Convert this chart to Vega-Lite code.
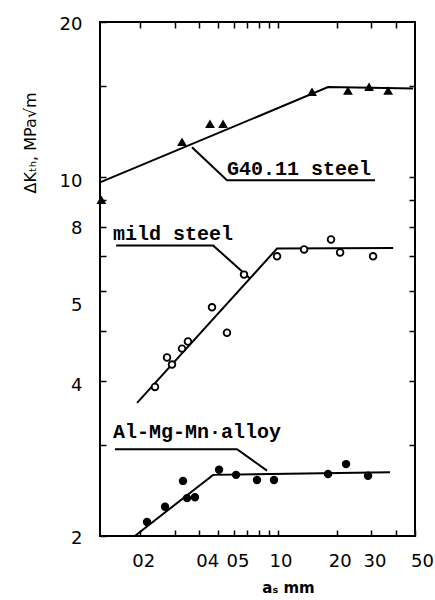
{
  "$schema": "https://vega.github.io/schema/vega-lite/v6.json",
  "width": 315,
  "height": 514,
  "autosize": "none",
  "padding": {"left": 100, "top": 22, "right": 20, "bottom": 64},
  "background": "white",
  "config": {
    "view": {"stroke": "black", "strokeWidth": 2},
    "axis": {"grid": false, "domain": false, "ticks": true, "tickOpacity": 1, "tickColor": "black", "labelColor": "black", "titleColor": "black", "tickWidth": 1.5}
  },
  "datasets": {
    "lines": [
      {"s": "G40", "o": 1, "x": 0.125, "y": 9.75},
      {"s": "G40", "o": 2, "x": 1.806, "y": 14.94},
      {"s": "G40", "o": 3, "x": 4.89, "y": 14.85},
      {"s": "G40lead", "o": 1, "x": 0.367, "y": 11.41},
      {"s": "G40lead", "o": 2, "x": 0.553, "y": 9.84},
      {"s": "G40lead", "o": 3, "x": 3.13, "y": 9.84},
      {"s": "mild", "o": 1, "x": 0.193, "y": 3.63},
      {"s": "mild", "o": 2, "x": 0.994, "y": 7.25},
      {"s": "mild", "o": 3, "x": 3.87, "y": 7.27},
      {"s": "mildlead", "o": 1, "x": 0.151, "y": 7.35},
      {"s": "mildlead", "o": 2, "x": 0.47, "y": 7.35},
      {"s": "mildlead", "o": 3, "x": 0.724, "y": 6.34},
      {"s": "Al", "o": 1, "x": 0.188, "y": 2.0},
      {"s": "Al", "o": 2, "x": 0.47, "y": 2.63},
      {"s": "Al", "o": 3, "x": 3.73, "y": 2.66},
      {"s": "Allead", "o": 1, "x": 0.149, "y": 2.95},
      {"s": "Allead", "o": 2, "x": 0.622, "y": 2.95},
      {"s": "Allead", "o": 3, "x": 0.884, "y": 2.68}
    ],
    "points": [
      {"m": "G40", "x": 0.127, "y": 9.0},
      {"m": "G40", "x": 0.3265, "y": 11.67},
      {"m": "G40", "x": 0.453, "y": 12.65},
      {"m": "G40", "x": 0.528, "y": 12.65},
      {"m": "G40", "x": 1.497, "y": 14.61},
      {"m": "G40", "x": 2.28, "y": 14.68},
      {"m": "G40", "x": 2.92, "y": 14.94},
      {"m": "G40", "x": 3.65, "y": 14.68},
      {"m": "mild", "x": 0.238, "y": 3.9},
      {"m": "mild", "x": 0.274, "y": 4.45},
      {"m": "mild", "x": 0.2905, "y": 4.31},
      {"m": "mild", "x": 0.3266, "y": 4.63},
      {"m": "mild", "x": 0.35, "y": 4.78},
      {"m": "mild", "x": 0.464, "y": 5.57},
      {"m": "mild", "x": 0.553, "y": 4.97},
      {"m": "mild", "x": 0.675, "y": 6.45},
      {"m": "mild", "x": 0.994, "y": 7.0},
      {"m": "mild", "x": 1.364, "y": 7.22},
      {"m": "mild", "x": 1.87, "y": 7.55},
      {"m": "mild", "x": 2.08, "y": 7.12},
      {"m": "mild", "x": 3.06, "y": 7.0},
      {"m": "Al", "x": 0.2168, "y": 2.13},
      {"m": "Al", "x": 0.2677, "y": 2.28},
      {"m": "Al", "x": 0.3305, "y": 2.56},
      {"m": "Al", "x": 0.3464, "y": 2.37},
      {"m": "Al", "x": 0.38, "y": 2.38},
      {"m": "Al", "x": 0.504, "y": 2.69},
      {"m": "Al", "x": 0.615, "y": 2.63},
      {"m": "Al", "x": 0.786, "y": 2.57},
      {"m": "Al", "x": 0.959, "y": 2.57},
      {"m": "Al", "x": 1.806, "y": 2.64},
      {"m": "Al", "x": 2.23, "y": 2.76},
      {"m": "Al", "x": 2.885, "y": 2.62}
    ],
    "labels": [
      {"t": "G40.11 steel", "x": 0.553, "y": 10.07},
      {"t": "mild steel", "x": 0.1455, "y": 7.52},
      {"t": "Al-Mg-Mn·alloy", "x": 0.1455, "y": 3.1}
    ]
  },
  "resolve": {"axis": {"x": "independent", "y": "independent"}},
  "layer": [
    {
      "data": {"name": "lines"},
      "mark": {"type": "line", "stroke": "black", "strokeWidth": 2},
      "encoding": {
        "x": {
          "field": "x", "type": "quantitative",
          "scale": {"type": "log", "domain": [0.125, 5], "nice": false},
          "axis": {
            "orient": "bottom",
            "offset": -6,
            "ticks": true,
            "tickColor": "black",
            "values": [0.2, 0.3, 0.4, 0.5, 0.6, 0.7, 0.8, 0.9, 1, 2, 3, 4, 5],
            "labelExpr": "indexof([0.2, 0.4, 0.5, 1, 2, 3, 5], datum.value) >= 0 ? (datum.value < 1 ? '0' + round(datum.value * 10) : '' + round(datum.value * 10)) : ''",
            "labelOverlap": false,
            "labelFlush": false,
            "tickSize": 6,
            "labelPadding": 16,
            "labelFont": "DejaVu Sans",
            "labelFontSize": 18,
            "labelOffset": {"condition": [{"test": "datum.value == 0.4", "value": 8}, {"test": "datum.value == 0.5", "value": 19}, {"test": "datum.value == 5", "value": 7}], "value": 3},
            "title": "aₛ   mm",
            "titleFont": "DejaVu Sans",
            "titleFontSize": 15,
            "titleFontWeight": "bold",
            "titleX": 188,
            "titleY": 62,
            "titleBaseline": "alphabetic"
          }
        },
        "y": {
          "field": "y", "type": "quantitative",
          "scale": {"type": "log", "domain": [2, 20], "nice": false},
          "axis": {
            "orient": "left",
            "offset": -6,
            "ticks": true,
            "tickColor": "black",
            "values": [2, 3, 4, 5, 6, 7, 8, 9, 10, 15, 20],
            "labelExpr": "indexof([2, 4, 5, 8, 10, 20], datum.value) >= 0 ? '' + datum.value : ''",
            "labelOverlap": false,
            "labelFlush": false,
            "tickSize": 6,
            "labelPadding": 18,
            "labelFont": "DejaVu Sans",
            "labelFontSize": 18,
            "labelOffset": {"condition": [{"test": "datum.value == 5", "value": -26}, {"test": "datum.value == 10", "value": 5}, {"test": "datum.value == 4", "value": 4}], "value": 2},
            "title": "ΔKₜₕ, MPa√m",
            "titleFont": "DejaVu Sans",
            "titleFontSize": 16,
            "titleFontWeight": "normal",
            "titleAngle": -90,
            "titleAlign": "left",
            "titleBaseline": "middle",
            "titleX": -76,
            "titleY": 171
          }
        },
        "detail": {"field": "s"},
        "order": {"field": "o", "type": "quantitative"}
      }
    },
    {
      "data": {"name": "points"},
      "mark": {"type": "point", "filled": true, "stroke": "black", "strokeWidth": 1.8, "opacity": 1},
      "encoding": {
        "x": {
          "field": "x", "type": "quantitative",
          "axis": {"orient": "top", "offset": -6, "ticks": true, "tickColor": "black", "values": [0.2, 0.3, 0.4, 0.5, 0.6, 0.7, 0.8, 0.9, 1, 2, 3, 4], "labels": false, "tickSize": 6, "title": null}
        },
        "y": {
          "field": "y", "type": "quantitative",
          "axis": {"orient": "right", "tickSize": -6, "ticks": true, "tickColor": "black", "values": [3, 4, 5, 6, 7, 8, 9, 10, 15], "labels": false, "title": null}
        },
        "shape": {"field": "m", "type": "nominal", "scale": {"domain": ["G40", "mild", "Al"], "range": ["triangle-up", "circle", "circle"]}, "legend": null},
        "fill": {"field": "m", "type": "nominal", "scale": {"domain": ["G40", "mild", "Al"], "range": ["black", "white", "black"]}, "legend": null},
        "size": {"field": "m", "type": "nominal", "scale": {"domain": ["G40", "mild", "Al"], "range": [45, 44, 38]}, "legend": null}
      }
    },
    {
      "data": {"name": "labels"},
      "mark": {"type": "text", "font": "Liberation Mono", "fontSize": 20, "fontWeight": "bold", "align": "left", "baseline": "alphabetic", "color": "black"},
      "encoding": {
        "x": {"field": "x", "type": "quantitative", "axis": null},
        "y": {"field": "y", "type": "quantitative", "axis": null},
        "text": {"field": "t"}
      }
    }
  ]
}
